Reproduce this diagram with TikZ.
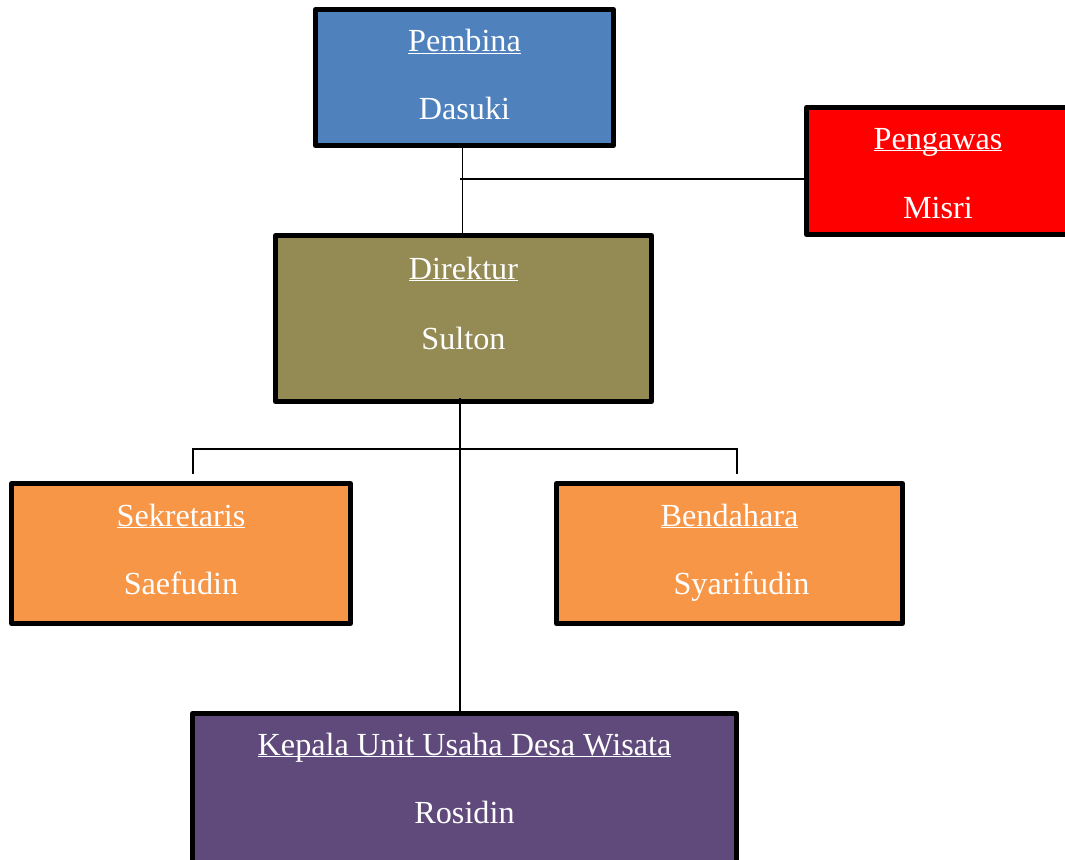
\documentclass[tikz,border=0pt]{standalone}
\usepackage{fontspec}
\setmainfont{Liberation Serif}

\definecolor{pembinablue}{HTML}{4F81BD}
\definecolor{pengawasred}{HTML}{FF0000}
\definecolor{direkturolive}{HTML}{948A54}
\definecolor{stafforange}{HTML}{F79646}
\definecolor{kepalapurple}{HTML}{604A7B}

\tikzset{
  unit/.style={rectangle, draw=black, line width=5pt, line join=round, inner sep=0pt},
  unittext/.style={anchor=base, text=white, inner sep=0pt, font=\fontsize{32.2}{38}\selectfont},
  link/.style={draw=black, line width=1.6pt},
}
\newcommand{\headline}[1]{\underline{\smash{#1}}}

\begin{document}
\begin{tikzpicture}[x=1pt,y=-1pt]
% page size
\clip (0,0) rectangle (1065,859);

% define the boxes
\node[unit, fill=pembinablue, minimum width=298pt, minimum height=136pt] (pembina) at (464.5,77.5) {};
\node[unit, fill=pengawasred, minimum width=263pt, minimum height=127pt] (pengawas) at (938,171) {};
\node[unit, fill=direkturolive, minimum width=376pt, minimum height=166pt] (direktur) at (463.5,318.5) {};
\node[unit, fill=stafforange, minimum width=339pt, minimum height=140pt] (sekretaris) at (181,553.5) {};
\node[unit, fill=stafforange, minimum width=346pt, minimum height=140pt] (bendahara) at (729.5,553.5) {};
\node[unit, fill=kepalapurple, minimum width=544pt, minimum height=164pt] (kepala) at (464.5,795.5) {};

% label the boxes
\node[unittext] (pembina title) at ([yshift=-45pt]pembina.north) {\headline{Pembina}};
\node[unittext] (pembina name) at ([yshift=-112pt]pembina.north) {Dasuki};
\node[unittext] (pengawas title) at ([yshift=-44pt]pengawas.north) {\headline{Pengawas}};
\node[unittext] (pengawas name) at ([yshift=-113pt]pengawas.north) {Misri};
\node[unittext] (direktur title) at ([yshift=-46pt]direktur.north) {\headline{Direktur}};
\node[unittext] (direktur name) at ([yshift=-116pt]direktur.north) {Sulton};
\node[unittext] (sekretaris title) at ([yshift=-45pt]sekretaris.north) {\headline{Sekretaris}};
\node[unittext] (sekretaris name) at ([yshift=-113pt]sekretaris.north) {Saefudin};
\node[unittext] (bendahara title) at ([yshift=-45pt]bendahara.north) {\headline{Bendahara}};
\node[unittext] (bendahara name) at ([xshift=12pt,yshift=-113pt]bendahara.north) {Syarifudin};
\node[unittext] (kepala title) at ([yshift=-44pt]kepala.north) {\headline{Kepala Unit Usaha Desa Wisata}};
\node[unittext] (kepala name) at ([yshift=-112pt]kepala.north) {Rosidin};

% define the joints
\coordinate (pengawas joint) at (460,179);
\coordinate (staff branch) at (460,449);
\coordinate (sekretaris drop) at ([xshift=12pt,yshift=7.5pt]sekretaris.north);
\coordinate (bendahara drop) at ([xshift=7.5pt,yshift=7.5pt]bendahara.north);

% draw the connectors
\draw[link] ([xshift=-2pt]pembina.south) -- ([xshift=-2pt]pembina.south |- direktur.north);
\draw[link] (pengawas joint) -- (pengawas joint -| pengawas.west);
\draw[link] ([xshift=-3.5pt,yshift=6pt]direktur.south) -- ([xshift=-3.5pt]direktur.south |- kepala.north);
\draw[link] (sekretaris drop) |- (staff branch) -| (bendahara drop);

\end{tikzpicture}
\end{document}
